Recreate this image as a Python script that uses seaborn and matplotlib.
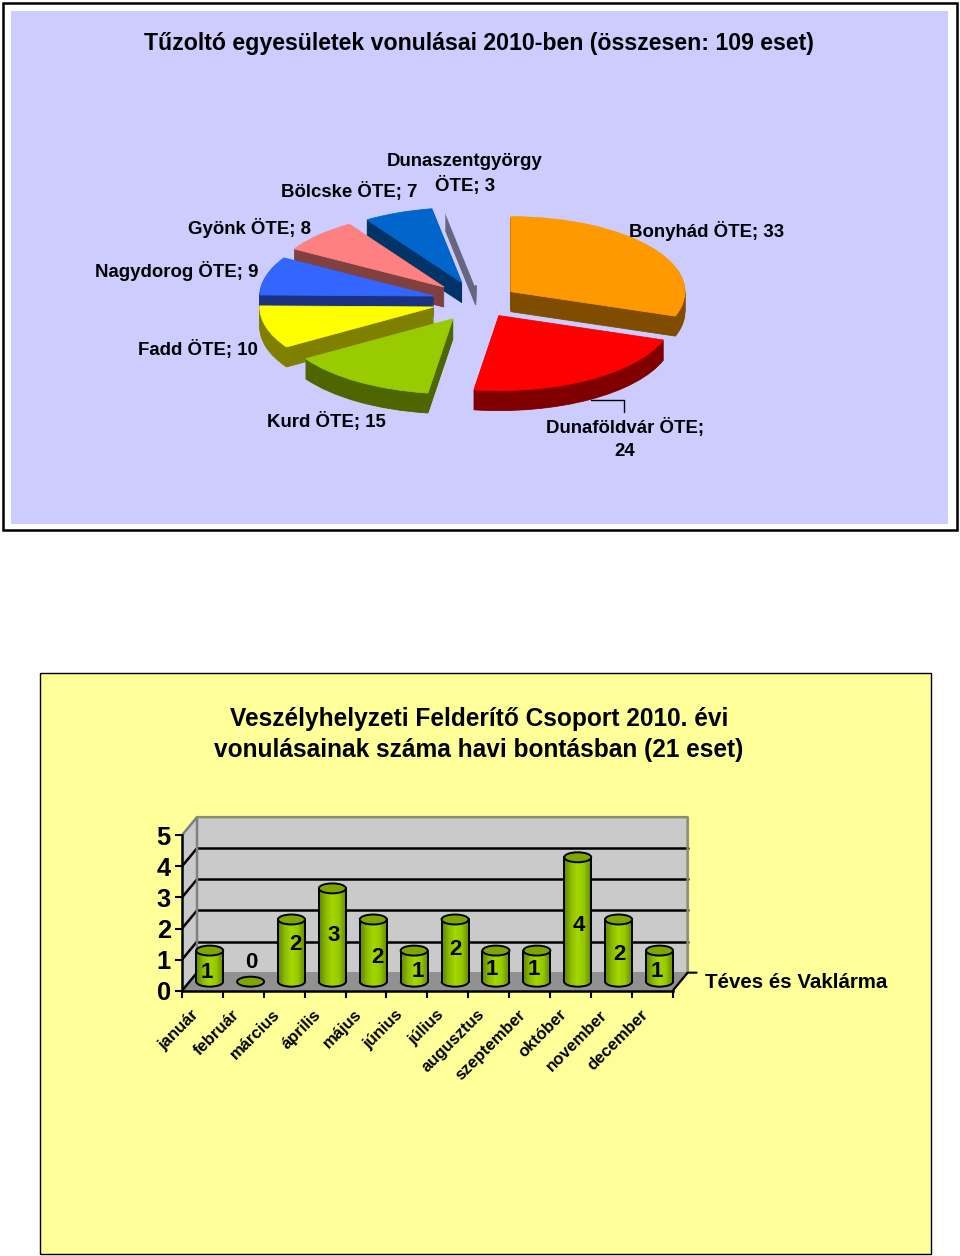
import numpy as np
import pandas as pd
import matplotlib
matplotlib.use("Agg")
import matplotlib.pyplot as plt
import seaborn as sns
from matplotlib.colors import to_rgb
from matplotlib.patches import Rectangle, Ellipse, Arc
from matplotlib.path import Path

sns.set_style("white")
plt.rcParams['font.family'] = ['Liberation Sans', 'DejaVu Sans']
plt.rcParams['font.weight'] = 'bold'
plt.rcParams['text.color'] = 'black'
plt.rcParams['xtick.labelcolor'] = 'black'
plt.rcParams['ytick.labelcolor'] = 'black'

# pie data
units = ["Bonyhád", "Dunaföldvár", "Kurd", "Fadd", "Nagydorog", "Gyönk", "Bölcske", "Dunaszentgyörgy"]
unit_calls = [33, 24, 15, 10, 9, 8, 7, 3]
pie_colors = ["#FF9900", "#FF0000", "#99CC00", "#FFFF00", "#3366FF", "#FF8080", "#0066CC", "#CCCCFF"]
explode = [0.225, 0.22, 0.275, 0.27, 0.27, 0.278, 0.27, 0.22]
draw_order = [2, 7, 6, 5, 4, 3, 1, 0]

# bar data
months = ["január", "február", "március", "április", "május", "június", "július",
          "augusztus", "szeptember", "október", "november", "december"]
month_calls = [1, 0, 2, 3, 2, 1, 2, 1, 1, 4, 2, 1]
label_dx = [-0.07, 0.03, 0.09, 0.04, 0.11, 0.09, 0.0, -0.1, -0.07, 0.03, 0.03, -0.06]
label_y = [0.6, 0.92, 1.47, 1.79, 1.08, 0.63, 1.31, 0.67, 0.67, 2.11, 1.15, 0.63]

W, H = 960, 1256
fig = plt.figure(figsize=(W / 100, H / 100), dpi=100, facecolor="white")


def px_axes(left, top, right, bottom):
    return fig.add_axes([left / W, 1 - bottom / H, (right - left) / W, (bottom - top) / H])


# background panels and free text, in pixels
bg = px_axes(0, 0, W, H)
bg.set_xlim(0, W)
bg.set_ylim(H, 0)
bg.axis("off")
bg.add_patch(Rectangle((3, 3), 954, 527, fc="white", ec="black", lw=1.8))
bg.add_patch(Rectangle((11, 11), 937, 513, fc="#CCCCFF", ec="none"))
bg.add_patch(Rectangle((40, 673), 891, 581, fc="#FFFF99", ec="black", lw=1.0))

bg.text(479, 43.5, "Tűzoltó egyesületek vonulásai 2010-ben (összesen: 109 eset)",
        ha="center", va="center", fontsize=16.65)
bg.text(479, 719, "Veszélyhelyzeti Felderítő Csoport 2010. évi",
        ha="center", va="center", fontsize=17.65)
bg.text(479, 750, "vonulásainak száma havi bontásban (21 eset)",
        ha="center", va="center", fontsize=17.65)
bg.text(705, 982, "Téves és Vaklárma", ha="left", va="center", fontsize=14.8)

# pie labels
lab_fs = 13.4
pie_label = {u: f"{u} ÖTE; {v}" for u, v in zip(units, unit_calls)}
bg.text(707, 231, pie_label["Bonyhád"], ha="center", va="center", fontsize=lab_fs)
bg.text(625, 427, "Dunaföldvár ÖTE;", ha="center", va="center", fontsize=lab_fs)
bg.text(625, 452, str(unit_calls[1]), ha="center", va="center", fontsize=lab_fs)
bg.text(326, 421, pie_label["Kurd"], ha="center", va="center", fontsize=lab_fs)
bg.text(198, 349, pie_label["Fadd"], ha="center", va="center", fontsize=lab_fs)
bg.text(177, 271, pie_label["Nagydorog"], ha="center", va="center", fontsize=lab_fs)
bg.text(249, 228, pie_label["Gyönk"], ha="center", va="center", fontsize=lab_fs)
bg.text(349, 192, pie_label["Bölcske"], ha="center", va="center", fontsize=lab_fs)
bg.text(465, 161.5, "Dunaszentgyörgy", ha="center", va="center", fontsize=lab_fs)
bg.text(465, 185, f"ÖTE; {unit_calls[7]}", ha="center", va="center", fontsize=lab_fs)
bg.plot([591, 624, 624], [400, 400, 412], color="black", lw=1.0)

# 3D pie: stacked copies of the pie give the side walls
pie_ax = px_axes(218, 189, 740, 414)
pie_ax.patch.set_alpha(0)
depth = 20 / 75
side_colors = [tuple(c * 0.5 for c in to_rgb(col)) for col in pie_colors]
for layer in range(21):
    top = layer == 20
    cols = pie_colors if top else side_colors
    wedges, _ = pie_ax.pie(unit_calls, explode=explode, colors=cols, startangle=90,
                           counterclock=False, radius=1, frame=False,
                           center=(0, -depth + layer * depth / 20))
    for i, w in enumerate(wedges):
        w.set_zorder(10 + draw_order[i] * 2 + (1 if top else 0))
        w.set_edgecolor(cols[i])
        w.set_linewidth(0.6)
    if top:
        # last slice top is the background colour, its rim must not show
        wedges[7].set_linewidth(2)
pie_ax.set_aspect("auto")
pie_ax.set_xlim(-1.5, 1.5)
pie_ax.set_ylim(-1.5, 1.5)
pie_ax.axis("off")

# bar chart with fake 3D box
ax = px_axes(182, 990.7 - 5.75 * 31.1, 700, 990.7)
ax.patch.set_alpha(0)
dx, dy = 0.367, 0.58
x0, x1 = -0.677, 11.32
bar_df = pd.DataFrame({"month": months, "calls": month_calls})
base = 0.29
sns.barplot(data=bar_df, x="month", y="calls", color="#9ACD00", width=0.66,
            bottom=base, saturation=1, ax=ax, zorder=5, linewidth=0)

wall = "#CACACA"
ax.fill([x0 + dx, x1 + dx, x1 + dx, x0 + dx], [dy, dy, 5 + dy, 5 + dy], color=wall, zorder=1)
ax.fill([x0, x0 + dx, x0 + dx, x0], [0, dy, 5 + dy, 5], color=wall, zorder=1)
ax.fill([x0, x1, x1 + dx, x0 + dx], [0, 0, dy, dy], color="#919191", zorder=1.5)
for v in range(1, 5):
    ax.plot([x0 + dx, x1 + dx], [v + dy, v + dy], color="black", lw=1.8, zorder=2)
for v in range(0, 5):
    ax.plot([x0, x0 + dx], [v, v + dy], color="black", lw=1.8, zorder=2)
ax.plot([x0, x0 + dx, x0 + dx], [5, 5 + dy, dy], color="#808080", lw=1.8, zorder=2)
ax.plot([x0 + dx, x1 + dx, x1 + dx, x1], [5 + dy, 5 + dy, dy, 0], color="#8C8C6E", lw=1.8, zorder=2)
ax.plot([x1, x1 + dx, x1 + dx + 0.22], [0, dy, dy], color="black", lw=1.5, zorder=2, clip_on=False)

grad = np.linspace(0, 1, 64).reshape(1, -1)
body_cmap = sns.blend_palette(["#5F8500", "#8CBA00", "#A4D800", "#96C800", "#668A00"], as_cmap=True)
ew = 0.66
eh = 0.32
for i, bar in enumerate(ax.containers[0]):
    v = month_calls[i]
    bar.set_edgecolor("none")
    if v > 0:
        foot = Ellipse((i, base), ew, eh)
        body = Path.make_compound_path(
            bar.get_path().transformed(bar.get_patch_transform()),
            foot.get_path().transformed(foot.get_patch_transform()))
        im = ax.imshow(grad, extent=(i - ew / 2, i + ew / 2, base - eh / 2, base + v),
                       aspect="auto", cmap=body_cmap, zorder=5.5)
        im.set_clip_path(body, transform=ax.transData)
        ax.add_patch(Arc((i, base), ew, eh, theta1=180, theta2=360, color="black", lw=1.4, zorder=6))
        ax.plot([i - ew / 2, i - ew / 2], [base, base + v], color="black", lw=1.4, zorder=6)
        ax.plot([i + ew / 2, i + ew / 2], [base, base + v], color="black", lw=1.4, zorder=6)
    ax.add_patch(Ellipse((i, base + v), ew, eh, fc="#7FA600", ec="black", lw=1.4, zorder=7))
    ax.text(i + label_dx[i], label_y[i], str(v), ha="center", va="center", fontsize=16, zorder=8)

ax.set_xlim(x0, 11.99)
ax.set_ylim(0, 5.75)
sns.despine(ax=ax, top=True, right=True)
ax.spines["left"].set_bounds(0, 5)
ax.spines["bottom"].set_bounds(x0, x1)
ax.spines["left"].set_linewidth(1.8)
ax.spines["bottom"].set_linewidth(1.8)
ax.spines["left"].set_color("black")
ax.spines["bottom"].set_color("black")
ax.spines["left"].set_zorder(3)
ax.set_xlabel("")
ax.set_ylabel("")
ax.set_yticks(range(6))
ax.set_yticklabels([str(v) for v in range(6)], fontsize=18.4)
ax.tick_params(axis="y", left=True, length=5, width=1.5, pad=3, color="black")
ax.set_xticks(np.arange(13) + x0, minor=True)
ax.set_xticks(np.arange(12) - 0.335)
ax.set_xticklabels(months, rotation=45, ha="right", va="center", rotation_mode="anchor", fontsize=12)
ax.tick_params(axis="x", which="major", bottom=False, length=0, pad=15.5)
ax.tick_params(axis="x", which="minor", bottom=True, length=5, width=1.5, color="black")

plt.savefig("out.png", dpi=100)
